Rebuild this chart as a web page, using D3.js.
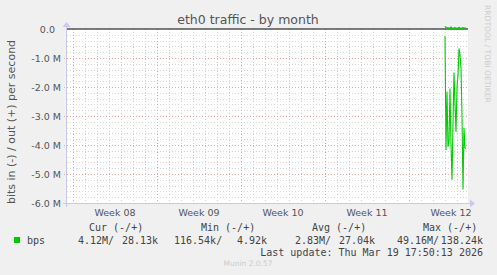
<!DOCTYPE html>
<html><head><meta charset="utf-8">
<script src="https://cdn.jsdelivr.net/npm/d3@7"></script>
<style>
html,body{margin:0;padding:0;background:#f0f0f0;}
svg{display:block;}
text{white-space:pre;}
</style></head>
<body>
<svg id="c" width="497" height="275"></svg>
<script>
// ---- data ----
const weekLabels = ["Week 08","Week 09","Week 10","Week 11","Week 12"];
const weekStartHours = [0,168,336,504,672];        // hours since start of Week 08
const yTickValues = [0,-1e6,-2e6,-3e6,-4e6,-5e6,-6e6];
const yTickLabels = ["0.0  ","-1.0 M","-2.0 M","-3.0 M","-4.0 M","-5.0 M","-6.0 M"];
// samples every 2 hours (hours since start of Week 08)
const sampleHours = [744,746,748,750,752,754,756,758,760,762,764,766,768,770,772,774,776,778,780,782,784,786];
// bits in (drawn negative), bits/s
const bitsIn = [0.24e6,4.17e6,2.16e6,4.06e6,3.9e6,2.05e6,4.0e6,5.2e6,3.3e6,1.5e6,2.6e6,3.54e6,2.0e6,1.6e6,0.67e6,0.9e6,1.35e6,3.0e6,5.53e6,3.41e6,4.1e6,4.12e6];
// bits out (positive), bits/s
const bitsOut = [0.09e6,0.05e6,0.03e6,0.04e6,0.02e6,0.03e6,0.06e6,0.03e6,0.02e6,0.03e6,0.04e6,0.03e6,0.02e6,0.03e6,0.05e6,0.03e6,0.02e6,0.03e6,0.04e6,0.03e6,0.03e6,0.028e6];
const legendHeaders = ["Cur (-/+)","Min (-/+)","Avg (-/+)","Max (-/+)"];
const legendIn = ["4.12M/","116.54k/","2.83M/","49.16M/"];
const legendOut = ["28.13k","4.92k","27.04k","138.24k"];
const seriesName = "bps";
const lastUpdate = "Last update: Thu Mar 19 17:50:13 2026";

// ---- layout ----
const svg = d3.select("#c");
const L=67, R=467, T=29, B=203;
const x = d3.scaleLinear().domain([-12,788]).range([L,R]);
const y = d3.scaleLinear().domain([-6e6,0]).range([B,T]);
const sans = "DejaVu Sans", mono = "DejaVu Sans Mono";

svg.append("rect").attr("x",L).attr("y",T).attr("width",R-L+1).attr("height",B-T).attr("fill","#fff");

// minor grid
const g = svg.append("g").attr("shape-rendering","crispEdges");
const dayHours = d3.range(0,788,24);
g.selectAll(".vmin").data(dayHours.filter(h=>h%168!==0)).join("line")
 .attr("x1",d=>Math.round(x(d))+0.5).attr("x2",d=>Math.round(x(d))+0.5).attr("y1",T).attr("y2",B)
 .attr("stroke","#d0d0d0").attr("stroke-dasharray","1,2");
const minorY = d3.range(0,31).map(i=>-i*0.2e6).filter((v,i)=>i%5!==0);
g.selectAll(".hmin").data(minorY).join("line")
 .attr("x1",L).attr("x2",R+1).attr("y1",d=>Math.round(y(d))+0.5).attr("y2",d=>Math.round(y(d))+0.5)
 .attr("stroke","#d8d8d8").attr("stroke-dasharray","1,2");
// major grid
g.selectAll(".vmaj").data(weekStartHours).join("line")
 .attr("x1",d=>Math.round(x(d))+0.5).attr("x2",d=>Math.round(x(d))+0.5).attr("y1",T).attr("y2",B+3)
 .attr("stroke","#e8a8a8").attr("stroke-dasharray","1,2");
g.selectAll(".hmaj").data(yTickValues.slice(1)).join("line")
 .attr("x1",L-3).attr("x2",R+1).attr("y1",d=>Math.round(y(d))+0.5).attr("y2",d=>Math.round(y(d))+0.5)
 .attr("stroke","#e8a8a8").attr("stroke-dasharray","1,2");

// axes
const axCol="#c8c8f0";
svg.append("line").attr("x1",L-4).attr("x2",R+3).attr("y1",B+0.5).attr("y2",B+0.5).attr("stroke",axCol);
svg.append("path").attr("d",`M${R+3},${B-3.5} L${R+8},${B+0.5} L${R+3},${B+4.5} Z`).attr("fill",axCol);
svg.append("line").attr("x1",L-0.5).attr("x2",L-0.5).attr("y1",B+4).attr("y2",T-2).attr("stroke",axCol);
svg.append("path").attr("d",`M${L-4.5},${T-2} L${L-0.5},${T-7} L${L+3.5},${T-2} Z`).attr("fill",axCol);

// zero line
svg.append("line").attr("x1",L).attr("x2",R+1).attr("y1",y(0)).attr("y2",y(0)).attr("stroke","#000").attr("stroke-width",1.2);

// series
const line = d3.line().x((d,i)=>x(sampleHours[i])).y(d=>y(d));
svg.append("path").datum(bitsIn.map(v=>-v)).attr("d",line).attr("fill","none").attr("stroke","#00cc00").attr("stroke-width",1.1);
svg.append("path").datum(bitsOut).attr("d",line).attr("fill","none").attr("stroke","#00cc00").attr("stroke-width",1.4);

// y tick labels
svg.selectAll(".yl").data(yTickValues).join("text")
 .attr("x",61).attr("y",d=>y(d)+3.5).attr("text-anchor","end")
 .attr("font-family",sans).attr("font-size",9.5).attr("fill","#555")
 .text((d,i)=>yTickLabels[i]);
// x labels
svg.selectAll(".xl").data(weekStartHours).join("text")
 .attr("x",d=>x(d+84)).attr("y",216).attr("text-anchor","middle")
 .attr("font-family",sans).attr("font-size",9.5).attr("fill","#555")
 .text((d,i)=>weekLabels[i]);

// title
svg.append("text").attr("x",248).attr("y",24).attr("text-anchor","middle")
 .attr("font-family",sans).attr("font-size",12.5).attr("fill","#555").text("eth0 traffic - by month");
// y title
svg.append("text").attr("transform","translate(15,122) rotate(-90)").attr("text-anchor","middle")
 .attr("font-family",sans).attr("font-size",11).attr("fill","#555").text("bits in (-) / out (+) per second");
// watermark
svg.append("text").attr("transform","translate(485,5) rotate(90)").attr("text-anchor","start")
 .attr("font-family",sans).attr("font-size",7.6).attr("fill","#ccc").text("RRDTOOL / TOBI OETIKER");

// legend
const hdrX=[89,201,312,423], inX=[78,174,295,397], outEnd=[158,267,375,483];
svg.selectAll(".lh").data(legendHeaders).join("text")
 .attr("x",(d,i)=>hdrX[i]).attr("y",231).attr("font-family",mono).attr("font-size",10).attr("fill","#444").text(d=>d);
svg.append("rect").attr("x",14).attr("y",237).attr("width",6).attr("height",6).attr("fill","#00cc00");
svg.append("text").attr("x",27).attr("y",244).attr("font-family",mono).attr("font-size",10).attr("fill","#444").text(seriesName);
svg.selectAll(".li").data(legendIn).join("text")
 .attr("x",(d,i)=>inX[i]).attr("y",244).attr("font-family",mono).attr("font-size",10).attr("fill","#444").text(d=>d);
svg.selectAll(".lo").data(legendOut).join("text")
 .attr("x",(d,i)=>outEnd[i]).attr("y",244).attr("text-anchor","end").attr("font-family",mono).attr("font-size",10).attr("fill","#444").text(d=>d);
svg.append("text").attr("x",483).attr("y",256).attr("text-anchor","end").attr("font-family",mono).attr("font-size",10).attr("fill","#444").text(lastUpdate);
svg.append("text").attr("x",248).attr("y",266).attr("text-anchor","middle").attr("font-family",sans).attr("font-size",7.5).attr("fill","#ccc").text("Munin 2.0.57");
</script>
</body></html>
